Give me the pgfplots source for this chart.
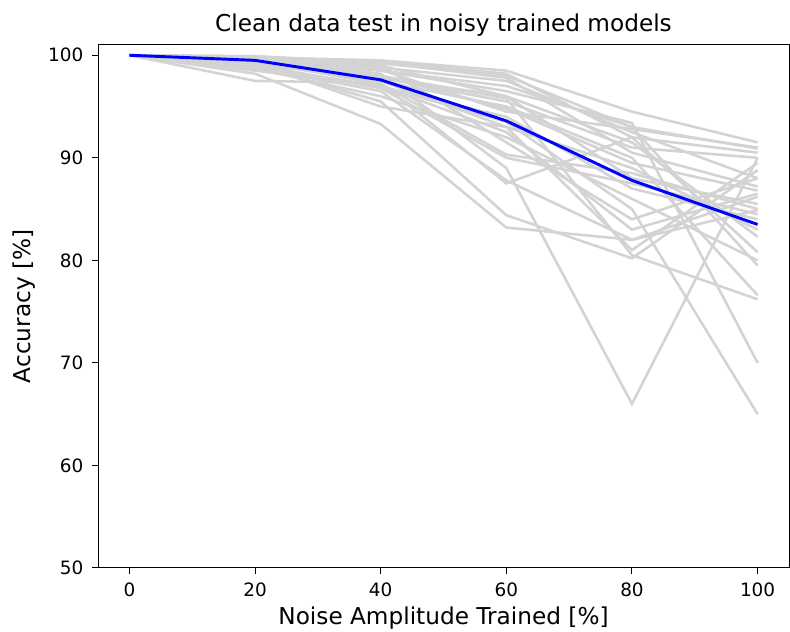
\documentclass[border=0pt]{standalone}
\usepackage{fontspec}
\setmainfont{DejaVu Sans}
\usepackage{pgfplots}
\pgfplotsset{compat=1.18}
\definecolor{lgray}{HTML}{D3D3D3}
\pgfplotsset{gl/.style={lgray, line width=1.9pt, mark=none, solid}}
\begin{document}
\begin{tikzpicture}
\begin{axis}[
  scale only axis,
  width=518.25pt, height=392.25pt,
  xmin=-5, xmax=105, ymin=50, ymax=101,
  xtick={0,20,40,60,80,100}, ytick={50,60,70,80,90,100},
  xtick pos=bottom, ytick pos=left,
  tick align=outside, major tick length=4.5pt,
  tick style={black, line width=0.75pt},
  axis line style={line width=0.75pt},
  /pgf/number format/assume math mode=true,
  ticklabel style={font=\fontsize{13.8}{16}\selectfont},
  xticklabel style={inner sep=0pt, yshift=-6.5pt},
  yticklabel style={xshift=-3pt},
  title={Clean data test in noisy trained models},
  title style={at={(axis description cs:0.5,1.023)}, anchor=center, font=\fontsize{17.4}{20}\selectfont},
  xlabel={Noise Amplitude Trained [\%]},
  ylabel={Accuracy [\%]},
  xlabel style={at={(axis description cs:0.5,-0.095)}, anchor=center, inner sep=0pt, font=\fontsize{17.4}{20}\selectfont},
  ylabel style={at={(axis description cs:-0.1071,0.5)}, anchor=center, font=\fontsize{17.4}{20}\selectfont},
]
\addplot[gl] coordinates {(0,100) (20,99.8) (40,99.5) (60,98.5) (80,94.5) (100,91.5)};
\addplot[gl] coordinates {(0,100) (20,99.9) (40,99.2) (60,98.0) (80,93.0) (100,90.9)};
\addplot[gl] coordinates {(0,100) (20,99.5) (40,98.8) (60,97.5) (80,92.5) (100,88.0)};
\addplot[gl] coordinates {(0,100) (20,99.7) (40,98.5) (60,96.5) (80,93.4) (100,70.0)};
\addplot[gl] coordinates {(0,100) (20,99.2) (40,97.8) (60,95.5) (80,91.0) (100,90.0)};
\addplot[gl] coordinates {(0,100) (20,99.0) (40,98.0) (60,94.8) (80,89.5) (100,86.8)};
\addplot[gl] coordinates {(0,100) (20,98.5) (40,97.0) (60,93.5) (80,85.0) (100,65.0)};
\addplot[gl] coordinates {(0,100) (20,99.6) (40,98.2) (60,89.0) (80,66.0) (100,90.0)};
\addplot[gl] coordinates {(0,100) (20,99.4) (40,97.2) (60,90.3) (80,88.5) (100,85.0)};
\addplot[gl] coordinates {(0,100) (20,98.8) (40,96.5) (60,87.8) (80,82.0) (100,86.2)};
\addplot[gl] coordinates {(0,100) (20,97.5) (40,97.3) (60,87.5) (80,92.0) (100,80.8)};
\addplot[gl] coordinates {(0,100) (20,99.0) (40,95.5) (60,84.4) (80,80.2) (100,88.8)};
\addplot[gl] coordinates {(0,100) (20,98.2) (40,93.3) (60,83.2) (80,82.0) (100,84.9)};
\addplot[gl] coordinates {(0,100) (20,99.8) (40,99.0) (60,96.0) (80,91.5) (100,82.3)};
\addplot[gl] coordinates {(0,100) (20,99.3) (40,97.5) (60,95.0) (80,90.0) (100,76.6)};
\addplot[gl] coordinates {(0,100) (20,99.6) (40,98.5) (60,97.0) (80,93.0) (100,79.5)};
\addplot[gl] coordinates {(0,100) (20,99.1) (40,96.8) (60,94.0) (80,87.0) (100,84.0)};
\addplot[gl] coordinates {(0,100) (20,99.9) (40,99.3) (60,97.8) (80,90.5) (100,87.2)};
\addplot[gl] coordinates {(0,100) (20,98.9) (40,97.0) (60,92.5) (80,83.0) (100,86.5)};
\addplot[gl] coordinates {(0,100) (20,99.5) (40,98.0) (60,95.8) (80,80.5) (100,76.2)};
\addplot[gl] coordinates {(0,100) (20,99.7) (40,99.0) (60,91.5) (80,84.0) (100,88.0)};
\addplot[gl] coordinates {(0,100) (20,99.2) (40,95.0) (60,93.0) (80,89.0) (100,83.0)};
\addplot[gl] coordinates {(0,100) (20,99.8) (40,99.4) (60,98.2) (80,92.0) (100,90.5)};
\addplot[gl] coordinates {(0,100) (20,99.4) (40,97.8) (60,96.0) (80,88.0) (100,85.5)};
\addplot[gl] coordinates {(0,100) (20,98.7) (40,96.0) (60,92.0) (80,86.0) (100,80.0)};
\addplot[gl] coordinates {(0,100) (20,99.6) (40,98.6) (60,94.5) (80,92.8) (100,91.0)};
\addplot[gl] coordinates {(0,100) (20,99.3) (40,97.5) (60,93.0) (80,81.0) (100,89.5)};
\addplot[gl] coordinates {(0,100) (20,99.0) (40,96.8) (60,90.0) (80,87.5) (100,84.5)};
\addplot[blue, line width=2.2pt, mark=none] coordinates {(0,100) (20,99.5) (40,97.6) (60,93.6) (80,87.8) (100,83.5)};
\end{axis}
\path (current axis.south west) ++(-73.5pt,-48pt) coordinate (A);
\path (current axis.north east) ++(0.75pt,33.75pt) coordinate (B);
\pgfresetboundingbox
\path[use as bounding box] (A) rectangle (B);
\end{tikzpicture}
\end{document}
